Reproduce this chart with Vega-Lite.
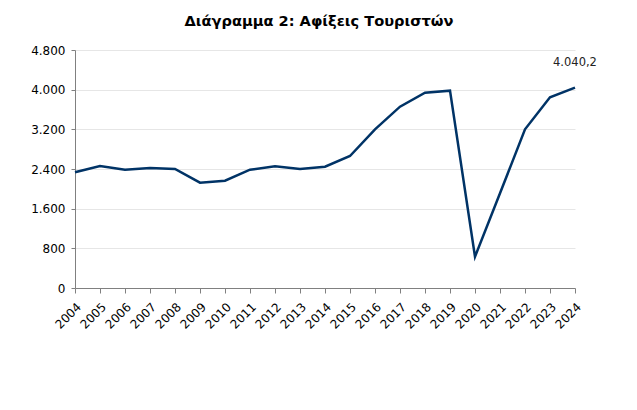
{
  "$schema": "https://vega.github.io/schema/vega-lite/v6.json",
  "width": 500,
  "height": 238,
  "autosize": "none",
  "padding": {"left": 75, "top": 50, "right": 62, "bottom": 122},
  "background": "white",
  "title": {"text": "Διάγραμμα 2: Αφίξεις Τουριστών", "font": "DejaVu Sans", "fontSize": 14.6, "fontWeight": "bold", "color": "#000000", "anchor": "middle", "offset": 15, "dx": -6},
  "config": {
    "locale": {"number": {"decimal": ",", "thousands": ".", "grouping": [3], "currency": ["", " €"]}},
    "view": {"stroke": null},
    "axis": {"labelFont": "DejaVu Sans", "labelFontSize": 12, "labelColor": "#000000", "domainColor": "#808080", "tickColor": "#808080", "gridColor": "#e6e6e6", "titleFont": "DejaVu Sans"}
  },
  "data": {"values": [
    {"year": 2004, "value": 2333},
    {"year": 2005, "value": 2460},
    {"year": 2006, "value": 2386},
    {"year": 2007, "value": 2420},
    {"year": 2008, "value": 2400},
    {"year": 2009, "value": 2124},
    {"year": 2010, "value": 2165},
    {"year": 2011, "value": 2386},
    {"year": 2012, "value": 2453},
    {"year": 2013, "value": 2400},
    {"year": 2014, "value": 2447},
    {"year": 2015, "value": 2662},
    {"year": 2016, "value": 3200},
    {"year": 2017, "value": 3657},
    {"year": 2018, "value": 3940},
    {"year": 2019, "value": 3980},
    {"year": 2020, "value": 631},
    {"year": 2021, "value": 1910},
    {"year": 2022, "value": 3200},
    {"year": 2023, "value": 3846},
    {"year": 2024, "value": 4040.2}
  ]},
  "encoding": {
    "x": {"field": "year", "type": "quantitative", "scale": {"domain": [2004, 2024], "nice": false, "zero": false},
      "axis": {"title": null, "values": [2004,2005,2006,2007,2008,2009,2010,2011,2012,2013,2014,2015,2016,2017,2018,2019,2020,2021,2022,2023,2024], "format": "d", "labelAngle": -45, "labelAlign": "right", "labelBaseline": "top", "grid": false, "tickSize": 5, "labelPadding": 8, "labelFlush": false, "labelOverlap": false}},
    "y": {"field": "value", "type": "quantitative", "scale": {"domain": [0, 4800], "nice": false},
      "axis": {"title": null, "values": [0, 800, 1600, 2400, 3200, 4000, 4800], "format": ",.0f", "grid": true, "tickSize": 4, "labelPadding": 6}}
  },
  "layer": [
    {"mark": {"type": "line", "color": "#003366", "strokeWidth": 2.5}},
    {"transform": [{"filter": "datum.year == 2024"}],
     "mark": {"type": "text", "font": "DejaVu Sans", "fontSize": 11.5, "color": "#222222", "dy": -25, "align": "center"},
     "encoding": {"text": {"field": "value", "type": "quantitative", "format": ",.1f"}}}
  ]
}
